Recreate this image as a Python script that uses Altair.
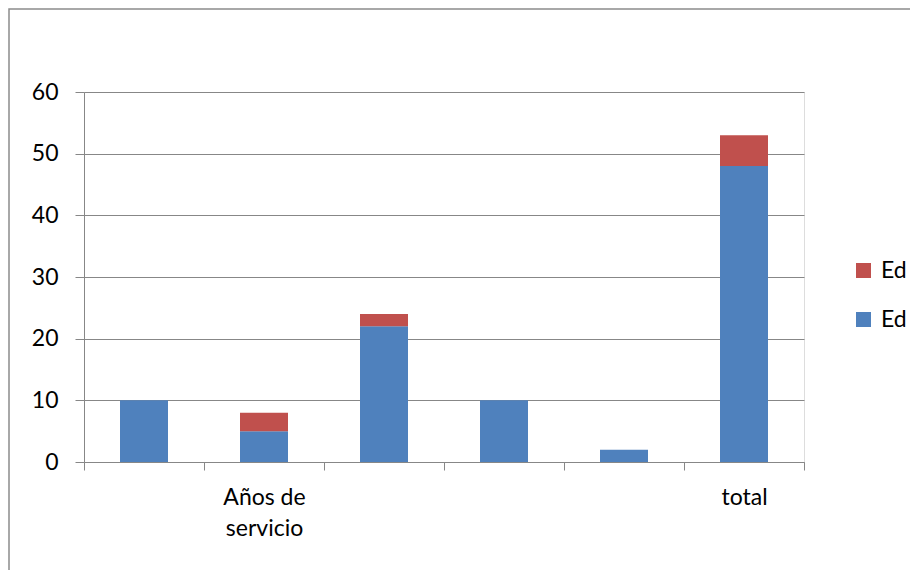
import altair as alt
import pandas as pd
import json

cat_ids = ["c1", "c2", "c3", "c4", "c5", "c6"]
cat_labels = ["", "Años de|servicio", "", "", "", "total"]
blue_vals = [10, 5, 22, 10, 2, 48]
red_vals = [0, 3, 2, 0, 0, 5]
series_names = ["Ed_red", "Ed_blue"]
legend_labels = ["Ed", "Ed"]
colors = ["#C0504D", "#4F81BD"]

rows = []
for c, b, r in zip(cat_ids, blue_vals, red_vals):
    rows.append({"cat": c, "series": "Ed_blue", "value": b, "ord": 0})
    if r > 0:
        rows.append({"cat": c, "series": "Ed_red", "value": r, "ord": 1})
df = pd.DataFrame(rows)

label_map = json.dumps(dict(zip(cat_ids, cat_labels)), ensure_ascii=False)
legend_map = json.dumps(dict(zip(series_names, legend_labels)))

FONT = "Lato"
FS = 23
GRID = "#878787"

bars = alt.Chart(df).mark_bar(size=48).encode(
    x=alt.X("cat:N", sort=cat_ids,
            scale=alt.Scale(paddingInner=0, paddingOuter=0),
            axis=alt.Axis(title=None, labelAngle=0, tickBand="extent",
                          labelExpr=f"datum.value ? split({label_map}[datum.value], '|') : ''",
                          tickSize=8, tickColor=GRID, domainColor=GRID,
                          labelFontSize=FS, labelFont=FONT, labelColor="#000000",
                          labelPadding=16, labelLineHeight=31, labelBaseline="top",
                          grid=False)),
    y=alt.Y("value:Q", stack="zero",
            scale=alt.Scale(domain=[0, 60], nice=False),
            axis=alt.Axis(title=None, values=[0, 10, 20, 30, 40, 50, 60],
                          tickSize=9, tickColor=GRID, domainColor=GRID,
                          gridColor=GRID, gridOpacity=1,
                          labelFontSize=FS, labelFont=FONT, labelColor="#000000",
                          labelPadding=17)),
    color=alt.Color("series:N",
                    scale=alt.Scale(domain=series_names, range=colors),
                    legend=alt.Legend(title=None, orient="none", legendX=768, legendY=167,
                                      symbolType="square", symbolSize=225,
                                      symbolStrokeWidth=0, symbolOpacity=1,
                                      labelFontSize=FS, labelFont=FONT,
                                      labelColor="#000000", labelOffset=6,
                                      rowPadding=25,
                                      labelExpr=f"{legend_map}[datum.value]")),
    order=alt.Order("ord:Q", sort="ascending"),
)

frame = alt.Chart(pd.DataFrame({"a": [0]})).mark_rect(
    fill=None, stroke="#8C8C8C", strokeWidth=1.5
).encode(
    x=alt.value(-75), y=alt.value(-83),
    x2=alt.value(900), y2=alt.value(600),
)

chart = alt.layer(frame, bars).properties(
    width=720, height=370,
    autosize=alt.AutoSizeParams(type="none"),
    padding={"left": 76, "top": 84, "right": 106, "bottom": 108},
).configure_view(stroke=None).configure(font=FONT)

chart.save("out.html", embed_options={"renderer": "svg", "actions": False})
